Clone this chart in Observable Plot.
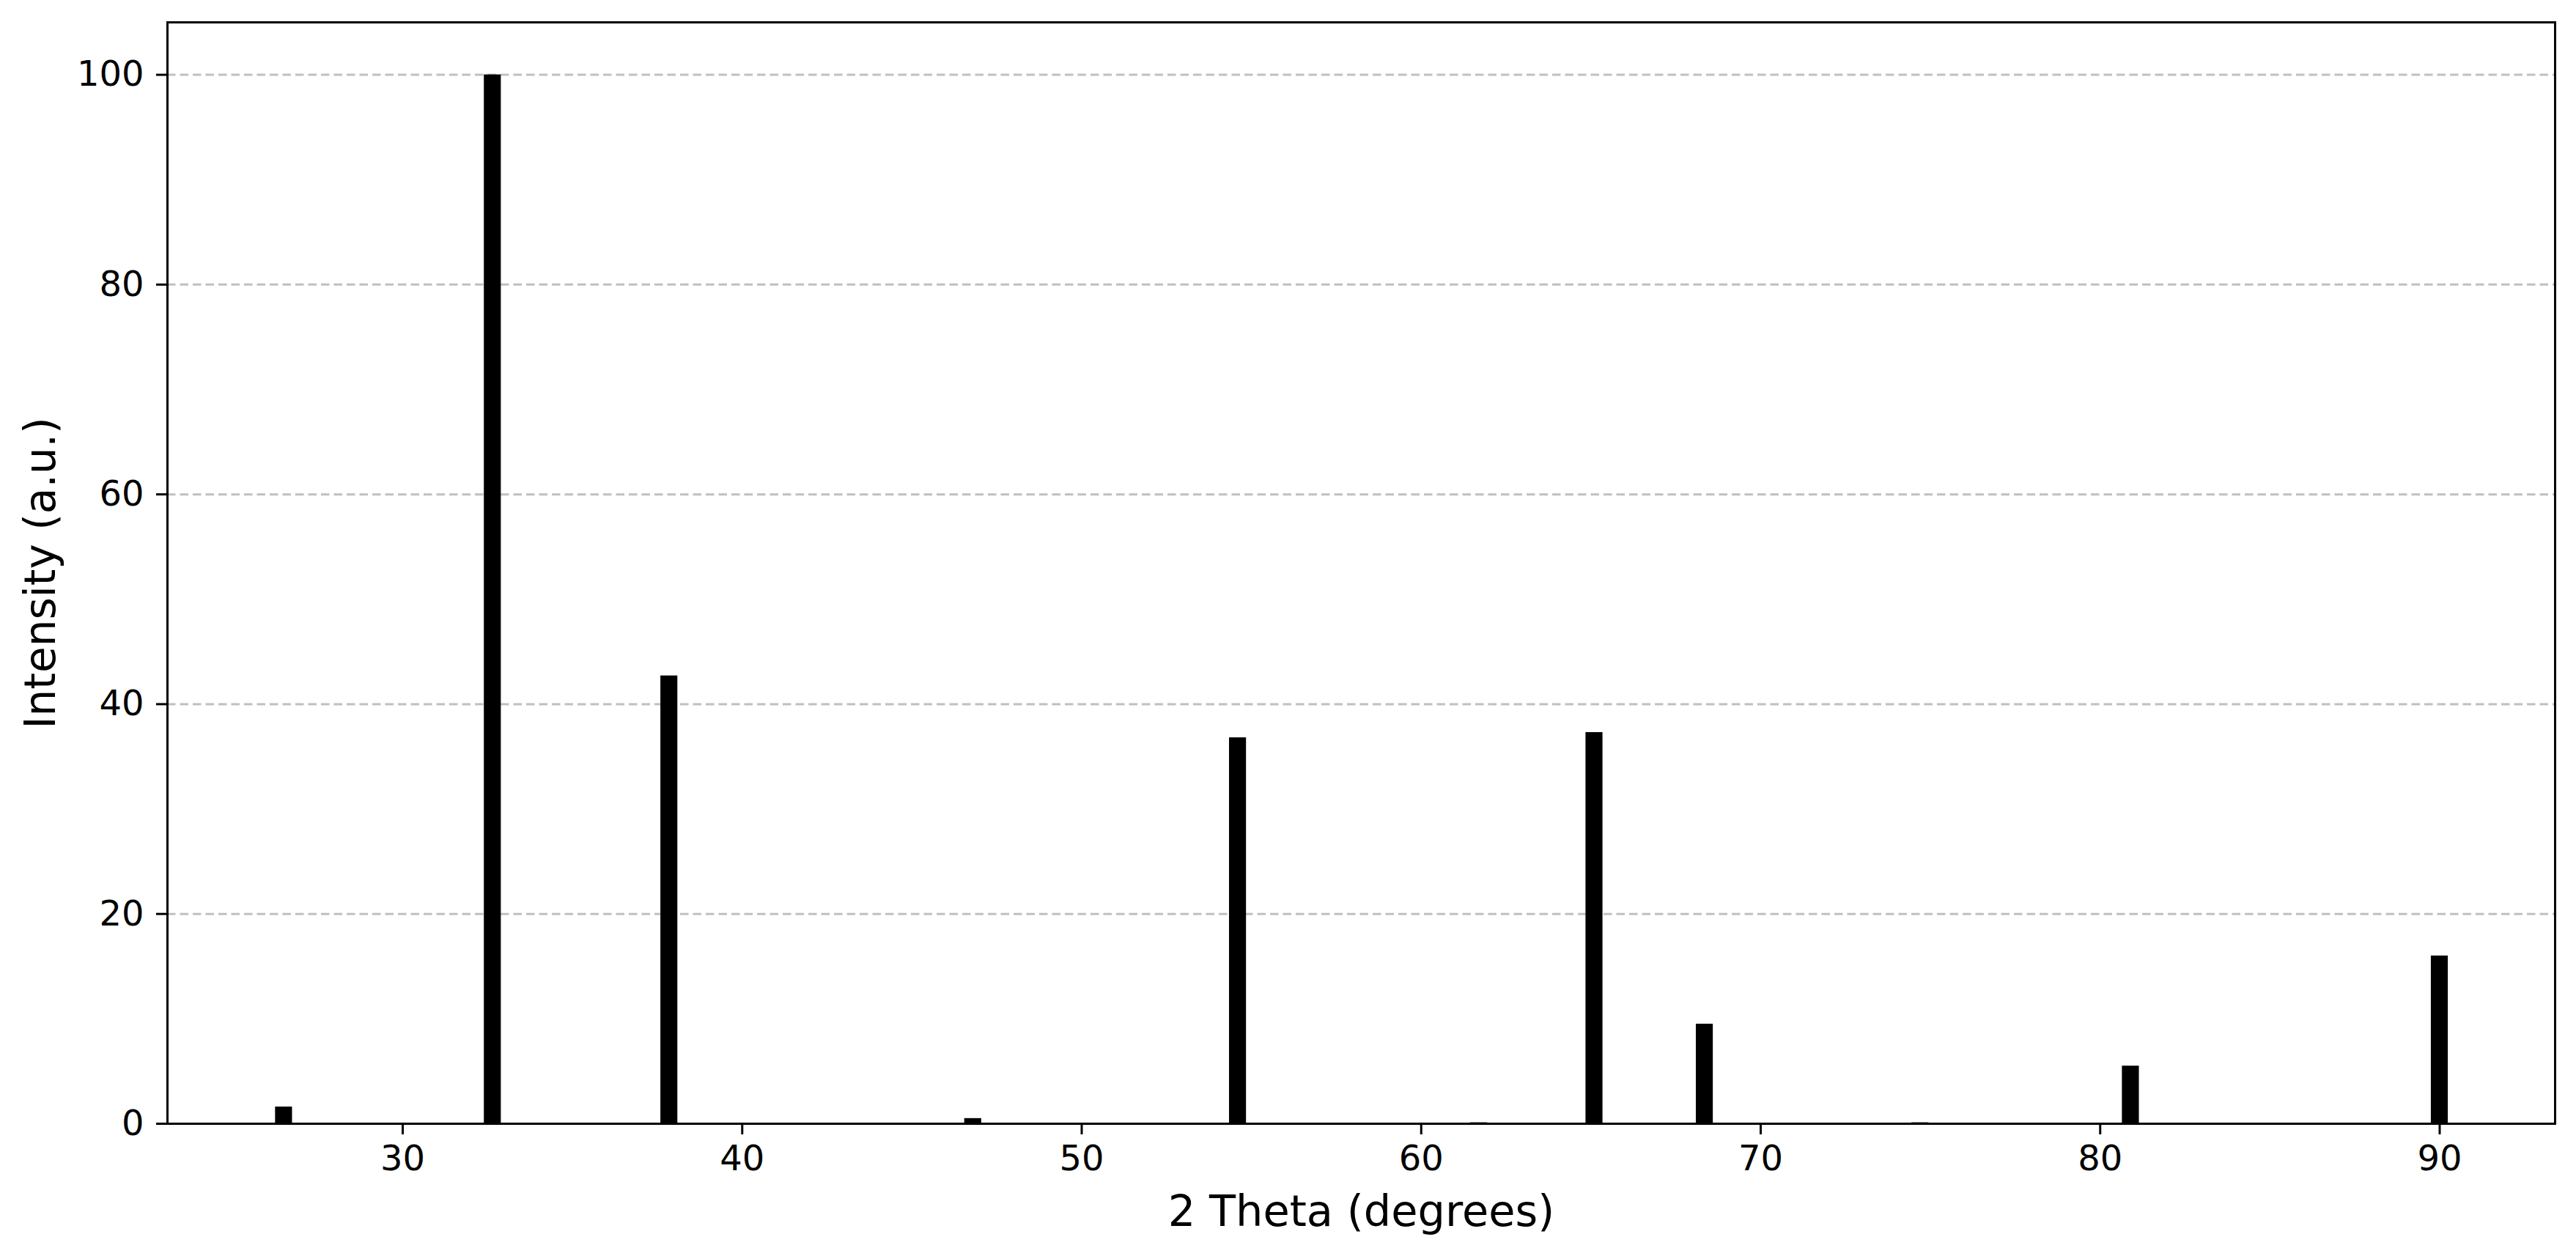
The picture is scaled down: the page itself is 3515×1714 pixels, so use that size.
<!DOCTYPE html>
<html><head><meta charset="utf-8">
<script src="https://cdn.jsdelivr.net/npm/d3@7"></script>
<script src="https://cdn.jsdelivr.net/npm/@observablehq/plot@0.6"></script>
<style>body{margin:0;background:#fff} svg{display:block}</style>
</head><body><div id="chart"></div>
<script>
const peakPositions = [26.5, 32.65, 37.85, 46.8, 54.6, 61.7, 65.1, 68.35, 74.7, 80.9, 90.0];
const peakIntensities = [1.6, 100, 42.7, 0.5, 36.8, 0.1, 37.3, 9.5, 0.1, 5.5, 16.0];
const xTicks = [30, 40, 50, 60, 70, 80, 90];
const yTicks = [0, 20, 40, 60, 80, 100];
const gridValues = [20, 40, 60, 80, 100];
const xLabel = "2 Theta (degrees)";
const yLabel = "Intensity (a.u.)";
const barWidth = 0.5;

const data = peakPositions.map((x, i) => ({x, y: peakIntensities[i]}));

const chart = Plot.plot({
  width: 3515, height: 1714,
  marginLeft: 228, marginRight: 29, marginTop: 30, marginBottom: 181,
  style: {fontFamily: "DejaVu Sans", background: "white", color: "black"},
  x: {domain: [23.07, 93.4]},
  y: {domain: [0, 105]},
  marks: [
    Plot.gridY(gridValues, {stroke: "#c0c0c0", strokeOpacity: 1, strokeWidth: 3, strokeDasharray: "11.5,6"}),
    Plot.rectY(data, {x1: d => d.x - barWidth / 2, x2: d => d.x + barWidth / 2, y: "y", fill: "black", inset: 0}),
    Plot.frame({stroke: "black", strokeWidth: 3}),
    Plot.axisX(xTicks, {tickSize: 15, tickPadding: 14, fontSize: 48, strokeWidth: 3, label: null}),
    Plot.axisY(yTicks, {tickSize: 15, tickPadding: 17, fontSize: 48, strokeWidth: 3, label: null}),
    Plot.text([xLabel], {text: d => d, frameAnchor: "bottom", dy: 121, fontSize: 59, lineAnchor: "middle", textAnchor: "middle"}),
    Plot.text([yLabel], {text: d => d, frameAnchor: "left", dx: -172, rotate: -90, fontSize: 58, lineAnchor: "middle", textAnchor: "middle"})
  ]
});
document.getElementById("chart").appendChild(chart);
</script>
</body></html>
